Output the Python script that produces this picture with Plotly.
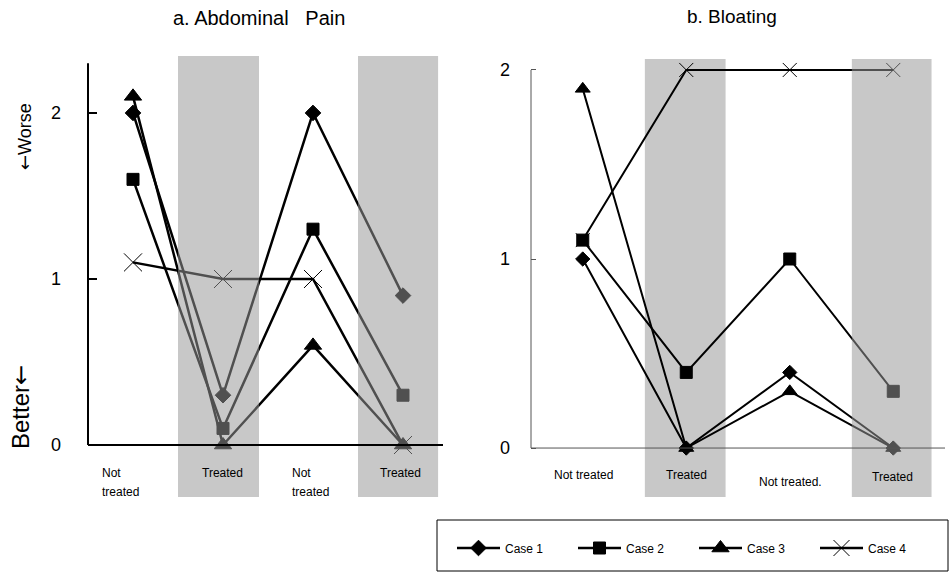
import plotly.graph_objects as go

# ---------------- data ----------------
phases = ["Not treated", "Treated", "Not treated", "Treated"]
left_labels = ["Not<br>treated", "Treated", "Not<br>treated", "Treated"]
right_labels = ["Not treated", "Treated", "Not treated.", "Treated"]
cases = ["Case 1", "Case 2", "Case 3", "Case 4"]

pain_case1 = [2.0, 0.3, 2.0, 0.9]
pain_case2 = [1.6, 0.1, 1.3, 0.3]
pain_case3 = [2.1, 0.0, 0.6, 0.0]
pain_case4 = [1.1, 1.0, 1.0, 0.0]

bloat_case1 = [1.0, 0.0, 0.4, 0.0]
bloat_case2 = [1.1, 0.4, 1.0, 0.3]
bloat_case3 = [1.9, 0.0, 0.3, 0.0]
bloat_case4 = [1.1, 2.0, 2.0, 2.0]

y_ticks = [0, 1, 2]
y_ticktext = ["0", "1", "2"]
panel_titles = ["a. Abdominal   Pain", "b. Bloating"]

# ---------------- styling / layout ----------------
W, H = 949, 572
FONT = "Liberation Sans, Arial, sans-serif"
ARROW = '<span style="font-family:DejaVu Sans">\u2190</span>'


def fx(p):
    return p / W


def fy(p):
    return 1 - p / H


xs = list(range(len(phases)))
symbols = ["diamond", "square", "triangle-up", "x-thin"]
left_sizes = [12, 12, 15, 18]
right_sizes = [11, 12, 13, 14]

L_YR = [-0.313, 2.343]
R_YR = [-0.259, 2.058]

fig = go.Figure()

pain = [pain_case1, pain_case2, pain_case3, pain_case4]
bloat = [bloat_case1, bloat_case2, bloat_case3, bloat_case4]

for i, (name, vals) in enumerate(zip(cases, pain)):
    fig.add_trace(go.Scatter(
        x=xs, y=vals, name=name, legendgroup=name, showlegend=True,
        mode="lines+markers", xaxis="x", yaxis="y", cliponaxis=False,
        line=dict(color="black", width=2.5),
        marker=dict(symbol=symbols[i], size=left_sizes[i], color="black",
                    line=dict(color="black", width=1)),
    ))

# right panel: Case 4 drawn first so its first marker sits under Case 2's square
for i in [3, 0, 1, 2]:
    name, vals = cases[i], bloat[i]
    fig.add_trace(go.Scatter(
        x=xs, y=vals, name=name, legendgroup=name, showlegend=False,
        mode="lines+markers", xaxis="x2", yaxis="y2", cliponaxis=False,
        line=dict(color="black", width=2),
        marker=dict(symbol=symbols[i], size=right_sizes[i], color="black",
                    line=dict(color="black", width=1)),
    ))

OVER = "rgba(151,151,151,0.53)"
SOLID = "#c8c8c8"
shapes = []
for (a, b) in [(0.5, 1.4), (2.5, 3.39)]:
    shapes.append(dict(type="rect", xref="x", yref="y", x0=a, x1=b,
                       y0=L_YR[0], y1=L_YR[1], fillcolor=OVER,
                       line=dict(width=0), layer="above"))
shapes.append(dict(type="rect", xref="x2", yref="y2", x0=0.6, x1=1.38,
                   y0=R_YR[0], y1=R_YR[1], fillcolor=SOLID,
                   line=dict(width=0), layer="below"))
shapes.append(dict(type="rect", xref="x2", yref="y2", x0=2.6, x1=3.37,
                   y0=R_YR[0], y1=R_YR[1], fillcolor=OVER,
                   line=dict(width=0), layer="above"))


def dfrac(v, r):
    return (v - r[0]) / (r[1] - r[0])


shapes.append(dict(type="line", xref="x domain", yref="y domain",
                   x0=0, x1=0, y0=dfrac(0, L_YR), y1=dfrac(2.30, L_YR),
                   line=dict(color="black", width=2), layer="above"))
shapes.append(dict(type="line", xref="x domain", yref="y domain",
                   x0=0, x1=(443 - 88) / 360, y0=dfrac(0, L_YR), y1=dfrac(0, L_YR),
                   line=dict(color="black", width=2), layer="above"))
shapes.append(dict(type="line", xref="x2 domain", yref="y2 domain",
                   x0=0, x1=0, y0=dfrac(0, R_YR), y1=dfrac(2, R_YR),
                   line=dict(color="#555555", width=1), layer="above"))
shapes.append(dict(type="line", xref="x2 domain", yref="y2 domain",
                   x0=0, x1=1, y0=dfrac(0, R_YR), y1=dfrac(0, R_YR),
                   line=dict(color="#555555", width=1), layer="above"))
shapes.append(dict(type="rect", xref="paper", yref="paper",
                   x0=fx(437), x1=fx(948), y0=fy(571), y1=fy(520),
                   line=dict(color="black", width=1), fillcolor="rgba(0,0,0,0)",
                   layer="above"))

annotations = []


def ann(text, px, py, size, xanchor="center", angle=0):
    annotations.append(dict(text=text, x=fx(px), y=fy(py), xref="paper", yref="paper",
                            xanchor=xanchor, yanchor="middle", showarrow=False,
                            textangle=angle,
                            font=dict(size=size, family=FONT, color="black")))


ann(panel_titles[0], 259, 18, 20)
ann(panel_titles[1], 732, 17, 19)
ann(ARROW + "Worse", 25, 137, 18, angle=-90)
ann("Better" + ARROW, 21, 407, 24, angle=-90)

left_label_px = [(100, "left"), (222, "center"), (290, "left"), (400, "center")]
for lab, (px, anch) in zip(left_labels, left_label_px):
    for k, line in enumerate(lab.split("<br>")):
        ann(line, px, 473 + 19 * k, 12, xanchor=anch)
right_label_px = [(583, 475), (686, 475), (790, 482), (892, 477)]
for lab, (px, py) in zip(right_labels, right_label_px):
    ann(lab, px, py, 12)

axis_common = dict(showgrid=False, zeroline=False, showline=False)

fig.update_layout(
    width=W, height=H,
    margin=dict(l=0, r=0, t=0, b=0),
    paper_bgcolor="white", plot_bgcolor="rgba(0,0,0,0)",
    font=dict(family=FONT, color="black"),
    xaxis=dict(domain=[fx(88), fx(448)], range=[-0.5, 3.5], showticklabels=False,
               ticks="", **axis_common),
    yaxis=dict(domain=[fy(497), fy(56)], range=L_YR, tickvals=y_ticks, ticktext=y_ticktext,
               ticks="inside", ticklen=9, tickwidth=2, tickcolor="black",
               ticklabelstandoff=26, tickfont=dict(size=18, family=FONT, color="black"),
               anchor="x", **axis_common),
    xaxis2=dict(domain=[fx(531), fx(945)], range=[-0.5, 3.5], showticklabels=False,
                ticks="", anchor="y2", **axis_common),
    yaxis2=dict(domain=[fy(497), fy(59)], range=R_YR, tickvals=y_ticks, ticktext=y_ticktext,
                ticks="inside", ticklen=5, tickwidth=1, tickcolor="#555555",
                ticklabelstandoff=20, tickfont=dict(size=18, family=FONT, color="black"),
                anchor="x2", **axis_common),
    shapes=shapes,
    annotations=annotations,
    showlegend=True,
    legend=dict(orientation="h", x=fx(452), y=fy(548), xanchor="left", yanchor="middle",
                bgcolor="rgba(0,0,0,0)", borderwidth=0, itemwidth=43,
                entrywidth=63, entrywidthmode="pixels",
                font=dict(size=12, family=FONT, color="black")),
)

fig.write_html("out.html", config={"displayModeBar": False},
               post_script="document.body.style.margin='0';document.body.style.overflow='hidden';")
